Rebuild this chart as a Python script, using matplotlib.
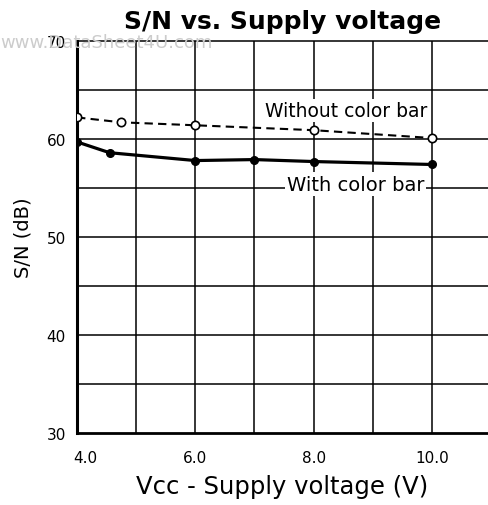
import matplotlib.pyplot as plt
from matplotlib.transforms import ScaledTranslation

plt.rcParams['font.family'] = ['DejaVu Sans']

# Supply voltage (V) and S/N (dB)
vcc_without = [4.0, 4.75, 6.0, 8.0, 10.0]
sn_without = [62.2, 61.7, 61.4, 60.9, 60.1]

vcc_with = [4.0, 4.55, 6.0, 7.0, 8.0, 10.0]
sn_with = [59.7, 58.6, 57.8, 57.9, 57.7, 57.4]

xticks = [4.0, 6.0, 8.0, 10.0]
xtick_labels = ['4.0', '6.0', '8.0', '10.0']
yticks = [30, 40, 50, 60, 70]

fig = plt.figure(figsize=(4.88, 5.06), dpi=100)
ax = fig.add_axes([0.158, 0.1423, 0.842, 0.7747])

# grid every 1 V and 5 dB
for x in range(5, 11):
    ax.axvline(x, color='black', linewidth=1.1, zorder=1)
for y in range(35, 70, 5):
    ax.axhline(y, color='black', linewidth=1.1, zorder=1)

ax.plot(vcc_without, sn_without, linestyle='--', dashes=(4, 2.5), color='black', linewidth=1.5,
        marker='o', markersize=6, markerfacecolor='white', markeredgecolor='black',
        markeredgewidth=1.2, zorder=3)
ax.plot(vcc_with, sn_with, linestyle='-', color='black', linewidth=2.3,
        marker='o', markersize=5.5, markerfacecolor='black', zorder=3)

ax.text(9.93, 62.9, 'Without color bar', fontsize=13.5, ha='right', va='center',
        bbox=dict(facecolor='white', edgecolor='none', pad=1.5), zorder=2)
ax.text(9.87, 55.4, 'With color bar', fontsize=14, ha='right', va='center',
        bbox=dict(facecolor='white', edgecolor='none', pad=1.5), zorder=2)

ax.set_xlim(4.0, 10.95)
ax.set_ylim(30, 70)
ax.set_xticks(xticks)
ax.set_xticklabels(xtick_labels)
ax.set_yticks(yticks)
ax.tick_params(axis='x', length=0, labelsize=11, pad=12)
ax.tick_params(axis='y', length=0, labelsize=11, pad=8)
first = ax.get_xticklabels()[0]
first.set_horizontalalignment('left')
first.set_transform(first.get_transform() + ScaledTranslation(-4 / 100, 0, fig.dpi_scale_trans))

ax.spines['right'].set_visible(False)
ax.spines['left'].set_linewidth(2.2)
ax.spines['bottom'].set_linewidth(2)
ax.spines['top'].set_linewidth(1.1)

ax.set_title('S/N vs. Supply voltage', fontsize=18, fontweight='bold', pad=9)
ax.set_xlabel('Vcc - Supply voltage (V)', fontsize=17.5, labelpad=7)
ax.set_ylabel('S/N (dB)', fontsize=14, labelpad=10)

fig.text(0.0, 0.906, 'www.DataSheet4U.com', fontsize=13, color='#cccccc', zorder=0)

fig.savefig('out.png', dpi=100)
